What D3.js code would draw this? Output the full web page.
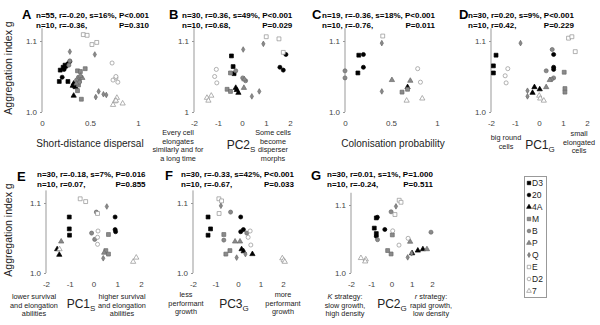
<!DOCTYPE html>
<html>
<head>
<meta charset="utf-8">
<script src="https://cdn.jsdelivr.net/npm/d3@7"></script>
<style>
  body { margin: 0; background: #fff; }
  svg { font-family: "Liberation Sans", Arial, sans-serif; }
</style>
</head>
<body>
<div id="chart"></div>
<script>
'use strict'

// strains, in legend order
const strains = ["D3", "20", "4A", "M", "B", "P", "Q", "E", "D2", "7"]

// [strain, x value, aggregation index g]
const dataA = [
  ["D3", 0.19, 1.059], ["D3", 0.22, 1.063], ["D3", 0.24, 1.066], ["D3", 0.18, 1.043], ["D3", 0.27, 1.043],
  ["20", 0.21, 1.049], ["20", 0.25, 1.064], ["20", 0.27, 1.068], ["20", 0.29, 1.071], ["20", 0.23, 1.060],
  ["4A", 0.33, 1.023], ["4A", 0.32, 1.037], ["4A", 0.34, 1.037], ["4A", 0.33, 1.040], ["4A", 0.35, 1.035],
  ["M", 0.37, 1.058], ["M", 0.40, 1.057], ["M", 0.45, 1.061], ["M", 0.38, 1.038], ["M", 0.37, 1.030], ["M", 0.41, 1.018], ["M", 0.39, 1.044],
  ["B", 0.29, 1.072], ["B", 0.38, 1.049], ["B", 0.39, 1.042], ["B", 0.36, 1.045], ["B", 0.28, 1.066],
  ["P", 0.42, 1.048], ["P", 0.40, 1.051], ["P", 0.36, 1.040],
  ["Q", 0.29, 1.085], ["Q", 0.55, 1.081], ["Q", 0.59, 1.029], ["Q", 0.64, 1.025], ["Q", 0.56, 1.021], ["Q", 0.67, 1.024],
  ["E", 0.43, 1.109], ["E", 0.47, 1.108], ["E", 0.52, 1.095], ["E", 0.57, 1.098],
  ["D2", 0.73, 1.069], ["D2", 0.74, 1.045], ["D2", 0.77, 1.048], ["D2", 0.79, 1.042], ["D2", 0.77, 1.050],
  ["7", 0.78, 1.020], ["7", 0.76, 1.015], ["7", 0.84, 1.012], ["7", 0.74, 1.010], ["7", 0.77, 1.016]
]

const dataB = [
  ["D3", -0.44, 1.079], ["D3", -0.37, 1.064], ["D3", -0.33, 1.054],
  ["20", 1.83, 1.081], ["20", 1.58, 1.063], ["20", 1.72, 1.059],
  ["4A", -0.26, 1.034], ["4A", -0.15, 1.027], ["4A", -0.22, 1.031],
  ["M", -0.48, 1.055], ["M", -0.62, 1.032], ["M", -0.48, 1.029],
  ["B", -0.26, 1.058], ["B", 0.03, 1.048], ["B", 0.15, 1.044],
  ["P", 0.10, 1.046], ["P", 0.08, 1.034],
  ["Q", 0.89, 1.096], ["Q", 0.05, 1.088], ["Q", 0.72, 1.029], ["Q", 0.41, 1.022],
  ["E", 1.01, 1.106], ["E", 1.54, 1.103], ["E", 1.72, 1.084],
  ["D2", -1.07, 1.060], ["D2", -1.14, 1.050], ["D2", -1.05, 1.041],
  ["7", -1.46, 1.020], ["7", -1.28, 1.023], ["7", -1.40, 1.016]
]

const dataC = [
  ["D3", 0.15, 1.080], ["D3", 0.14, 1.055],
  ["20", 0.20, 1.081], ["20", 0.20, 1.063],
  ["4A", 0.68, 1.035],
  ["M", 0.62, 1.028], ["M", 0.68, 1.032],
  ["B", 0.00, 1.058], ["B", 0.00, 1.048],
  ["P", 0.51, 1.045], ["P", 0.71, 1.044],
  ["Q", 0.40, 1.097], ["Q", 0.40, 1.029],
  ["E", 0.41, 1.107],
  ["D2", 0.79, 1.061], ["D2", 0.82, 1.042],
  ["7", 0.67, 1.016], ["7", 0.84, 1.019]
]

const dataD = [
  ["D3", -1.79, 1.080], ["D3", -1.90, 1.065], ["D3", -1.90, 1.055],
  ["20", 0.61, 1.081], ["20", 0.61, 1.063], ["20", 0.61, 1.060],
  ["4A", -0.19, 1.035], ["4A", 0.03, 1.032], ["4A", -0.27, 1.027],
  ["M", 1.05, 1.056], ["M", 1.08, 1.033], ["M", 1.08, 1.028],
  ["B", 0.55, 1.088], ["B", 0.30, 1.058], ["B", 0.61, 1.048], ["B", 0.52, 1.046],
  ["P", 0.30, 1.035], ["P", 0.45, 1.045],
  ["Q", -0.77, 1.097], ["Q", -0.48, 1.030], ["Q", -0.48, 1.022],
  ["E", 1.23, 1.104], ["E", 1.37, 1.106], ["E", 1.51, 1.085],
  ["D2", -1.30, 1.061], ["D2", -1.41, 1.051], ["D2", -1.37, 1.041],
  ["7", 0.01, 1.023], ["7", 0.05, 1.019], ["7", 0.20, 1.016]
]

const dataE = [
  ["D3", -1.02, 1.080], ["D3", -1.02, 1.063], ["D3", -1.01, 1.054],
  ["20", 0.91, 1.080], ["20", 0.91, 1.062], ["20", 0.93, 1.059],
  ["4A", -1.53, 1.034], ["4A", -1.44, 1.026],
  ["M", 0.63, 1.055], ["M", 0.52, 1.032], ["M", 0.63, 1.027],
  ["B", 0.12, 1.087], ["B", -0.08, 1.057], ["B", 0.05, 1.048],
  ["P", -1.36, 1.045], ["P", 0.45, 1.029],
  ["Q", 0.56, 1.095], ["Q", 0.41, 1.021],
  ["E", -0.56, 1.106], ["E", -0.33, 1.102], ["E", 0.17, 1.085],
  ["D2", 0.19, 1.060], ["D2", 0.17, 1.051], ["D2", 0.17, 1.041],
  ["7", -1.43, 1.034], ["7", 1.67, 1.016], ["7", 1.80, 1.022]
]

const dataF = [
  ["D3", -1.33, 1.080], ["D3", -1.22, 1.063], ["D3", -1.33, 1.054],
  ["20", 0.12, 1.080], ["20", 0.24, 1.062], ["20", 0.12, 1.059],
  ["4A", 0.16, 1.034], ["4A", 0.64, 1.027], ["4A", 0.25, 1.031],
  ["M", -0.63, 1.055], ["M", -0.36, 1.032], ["M", -0.54, 1.027],
  ["B", -0.33, 1.087], ["B", -0.63, 1.047], ["B", 0.39, 1.057],
  ["P", -0.13, 1.045], ["P", 0.09, 1.045],
  ["Q", -0.76, 1.096], ["Q", -0.06, 1.022], ["Q", 0.33, 1.027],
  ["E", -0.85, 1.106], ["E", -0.73, 1.103], ["E", -0.84, 1.085],
  ["D2", 0.54, 1.060], ["D2", 0.45, 1.051], ["D2", 0.57, 1.040],
  ["7", 1.97, 1.021], ["7", 2.03, 1.018], ["7", 2.08, 1.016]
]

const dataG = [
  ["D3", -0.85, 1.066], ["D3", -0.75, 1.081], ["D3", -0.75, 1.058],
  ["20", -0.70, 1.082], ["20", -0.33, 1.064], ["20", -0.75, 1.054],
  ["4A", 1.30, 1.033], ["4A", 1.55, 1.035], ["4A", 1.02, 1.029],
  ["M", 0.04, 1.056], ["M", -0.19, 1.033], ["M", -0.02, 1.028],
  ["B", -0.02, 1.090], ["B", 1.95, 1.060], ["B", -0.69, 1.049],
  ["P", 0.92, 1.046], ["P", 1.75, 1.035],
  ["Q", 0.22, 1.098], ["Q", 0.99, 1.029], ["Q", 0.80, 1.023],
  ["E", 0.38, 1.107], ["E", 0.47, 1.104], ["E", 0.17, 1.086],
  ["D2", 0.06, 1.062], ["D2", 0.82, 1.051], ["D2", 0.37, 1.041],
  ["7", -1.51, 1.022], ["7", -1.27, 1.020], ["7", -1.30, 1.017]
]

// statistics lines per panel
const statsLines = {
  A: ["n=55, r=-0.20, s=16%, P<0.001", "n=10, r=-0.36,", "P=0.310"],
  B: ["n=30, r=0.36, s=49%, P<0.001", "n=10, r=0.68,", "P=0.029"],
  C: ["n=19, r=-0.36, s=18%, P<0.001", "n=10, r=-0.76,", "P=0.011"],
  D: ["n=30, r=0.20, s=9%, P<0.001", "n=10, r=0.42,", "P=0.229"],
  E: ["n=30, r=-0.18, s=7%, P=0.016", "n=10, r=0.07,", "P=0.855"],
  F: ["n=30, r=-0.33, s=42%, P<0.001", "n=10, r=-0.67,", "P=0.033"],
  G: ["n=30, r=0.01, s=1%, P=1.000", "n=10, r=-0.24,", "P=0.511"]
}

const ticks01 = [0, 0.5, 1]
const ticksPC = [-2, -1, 0, 1, 2]
const yTicks = [1.0, 1.1]

////////////////////////////////////
//////////// svg setup /////////////
////////////////////////////////////

const svgWidth = 600
const svgHeight = 325

const svg = d3.select('#chart')
  .append('svg')
  .attr('width', svgWidth)
  .attr('height', svgHeight)

// marker styles
const black = '#000', grayFill = '#8a8a8a', grayStroke = '#6a6a6a', openStroke = '#909090'
const style = {
  "D3": { sym: d3.symbolSquare, size: 15, fill: black, stroke: black },
  "20": { sym: d3.symbolCircle, size: 13, fill: black, stroke: black },
  "4A": { sym: d3.symbolTriangle, size: 12, fill: black, stroke: black },
  "M": { sym: d3.symbolSquare, size: 15, fill: grayFill, stroke: grayStroke },
  "B": { sym: d3.symbolCircle, size: 13, fill: grayFill, stroke: grayStroke },
  "P": { sym: d3.symbolTriangle, size: 12, fill: grayFill, stroke: grayStroke },
  "Q": { sym: d3.symbolDiamond, size: 9, fill: grayFill, stroke: grayStroke },
  "E": { sym: d3.symbolSquare, size: 15, fill: '#fff', stroke: openStroke },
  "D2": { sym: d3.symbolCircle, size: 13, fill: '#fff', stroke: openStroke },
  "7": { sym: d3.symbolTriangle, size: 12, fill: '#fff', stroke: openStroke }
}

const panels = [
  { key: 'A', data: dataA, xd: [0, 1], xr: [42, 138], yr: [112, 41], ticks: ticks01, y1: '1.0',
    letter: [22, 19], stats: [36, 18], title: 'Short-distance dispersal', sub: null, tx: 90, ty: 147 },
  { key: 'B', data: dataB, xd: [-2, 2], xr: [194, 290], yr: [112, 41], ticks: ticksPC, y1: '1',
    letter: [169, 19], stats: [182, 18], title: 'PC2', sub: 'S', tx: 241, ty: 149,
    left: { x: 178, y: 135, lines: ['Every cell', 'elongates', 'similarly and for', 'a long time'] },
    right: { x: 273, y: 135, lines: ['Some cells', 'become', 'disperser', 'morphs'] } },
  { key: 'C', data: dataC, xd: [0, 1], xr: [345, 437], yr: [112, 41], ticks: ticks01, y1: '1.0',
    letter: [312, 19], stats: [322, 18], title: 'Colonisation probability', sub: null, tx: 393, ty: 147 },
  { key: 'D', data: dataD, xd: [-2, 2], xr: [491, 587], yr: [112, 41], ticks: ticksPC, y1: '1.0',
    letter: [459, 19], stats: [468, 18], title: 'PC1', sub: 'G', tx: 540, ty: 149,
    left: { x: 506, y: 140, lines: ['big round', 'cells'] },
    right: { x: 579, y: 136, lines: ['small', 'elongated', 'cells'] } },
  { key: 'E', data: dataE, xd: [-2, 2], xr: [46, 141], yr: [273, 203], ticks: ticksPC, y1: '1.0',
    letter: [17, 181], stats: [37, 177], title: 'PC1', sub: 'S', tx: 81, ty: 308,
    left: { x: 34, y: 299, lines: ['lower survival', 'and elongation', 'abilities'] },
    right: { x: 122, y: 299, lines: ['higher survival', 'and elongation', 'abilities'] } },
  { key: 'F', data: dataF, xd: [-2, 2], xr: [193, 283], yr: [273, 203], ticks: ticksPC, y1: '1.0',
    letter: [165, 180], stats: [181, 177], title: 'PC3', sub: 'G', tx: 234, ty: 308,
    left: { x: 186, y: 297, lines: ['less', 'performant', 'growth'] },
    right: { x: 283, y: 297, lines: ['more', 'performant', 'growth'] } },
  { key: 'G', data: dataG, xd: [-2, 2], xr: [351, 432], yr: [273, 205], ticks: ticksPC, y1: '1.0',
    letter: [311, 180], stats: [327, 177], title: 'PC2', sub: 'G', tx: 392, ty: 308,
    left: { x: 345, y: 299, lines: ['K strategy:', 'slow growth,', 'high density'], italic: 'K' },
    right: { x: 431, y: 299, lines: ['r strategy:', 'rapid growth,', 'low density'], italic: 'r' } }
]

////////////////////////////////////
//////////// add to DOM ////////////
////////////////////////////////////

panels.forEach(p => {
  const g = svg.append('g')

  const x = d3.scaleLinear().domain(p.xd).range(p.xr)
  const y = d3.scaleLinear().domain([1.0, 1.1]).range(p.yr)

  // y axis
  const yAxis = d3.axisLeft(y)
    .tickValues(yTicks)
    .tickSize(2)
    .tickSizeOuter(0)
    .tickFormat(d => d === 1 ? p.y1 : '1.1')
  const ya = g.append('g')
    .attr('transform', `translate(${p.xr[0]},0)`)
    .call(yAxis)
  ya.select('.domain').remove()
  ya.append('line')
    .attr('y1', y(1.0)).attr('y2', y(1.118))
    .attr('stroke', '#999')
  ya.selectAll('.tick line').attr('stroke', '#999')
  ya.selectAll('.tick text')
    .attr('x', -5)
    .attr('fill', '#444')
    .style('font-size', '8px')
    .style('font-family', '"Liberation Sans", Arial, sans-serif')

  // x axis, labels only
  const xAxis = d3.axisBottom(x)
    .tickValues(p.ticks)
    .tickSize(0)
    .tickFormat(d => String(d))
  const xa = g.append('g')
    .attr('transform', `translate(0,${p.yr[0] + 5})`)
    .call(xAxis)
  xa.select('.domain').remove()
  xa.selectAll('.tick text')
    .attr('fill', '#444')
    .style('font-size', '8px')
    .style('font-family', '"Liberation Sans", Arial, sans-serif')

  // points
  g.append('g')
    .selectAll('path')
    .data(p.data)
    .join('path')
    .attr('transform', d => `translate(${x(d[1])},${y(d[2])})`)
    .attr('d', d => d3.symbol(style[d[0]].sym, style[d[0]].size)())
    .attr('fill', d => style[d[0]].fill)
    .attr('stroke', d => style[d[0]].stroke)
    .attr('stroke-width', 0.7)

  // panel letter
  g.append('text')
    .attr('x', p.letter[0]).attr('y', p.letter[1])
    .attr('font-weight', 'bold')
    .attr('font-size', 13)
    .text(p.key)

  // stats
  const s = statsLines[p.key]
  const l1 = g.append('text')
    .attr('x', p.stats[0]).attr('y', p.stats[1])
    .attr('font-weight', 'bold').attr('font-size', 8)
    .text(s[0])
  const w = l1.node().getComputedTextLength()
  g.append('text')
    .attr('x', p.stats[0]).attr('y', p.stats[1] + 10)
    .attr('font-weight', 'bold').attr('font-size', 8)
    .text(s[1])
  g.append('text')
    .attr('x', p.stats[0] + w).attr('y', p.stats[1] + 10)
    .attr('text-anchor', 'end')
    .attr('font-weight', 'bold').attr('font-size', 8)
    .text(s[2])

  // x title
  const t = g.append('text')
    .attr('x', p.tx).attr('y', p.ty)
    .attr('text-anchor', 'middle')
    .attr('fill', '#222')
  if (p.sub) {
    t.attr('font-size', 12)
    t.append('tspan').text(p.title)
    t.append('tspan').attr('font-size', 8).attr('dy', 3).text(p.sub)
  } else {
    t.attr('font-size', 10).text(p.title)
  }

  // side notes
  ;[p.left, p.right].forEach(n => {
    if (!n) return
    n.lines.forEach((line, i) => {
      const tt = g.append('text')
        .attr('x', n.x).attr('y', n.y + i * 8.5)
        .attr('text-anchor', 'middle')
        .attr('font-size', 7.3)
        .attr('fill', '#222')
      if (i === 0 && n.italic) {
        tt.append('tspan').attr('font-style', 'italic').text(n.italic)
        tt.append('tspan').text(line.slice(n.italic.length))
      } else {
        tt.text(line)
      }
    })
  })
})

// y axis titles
;[68, 230].forEach(cy => {
  svg.append('text')
    .attr('transform', `translate(12,${cy}) rotate(-90)`)
    .attr('text-anchor', 'middle')
    .attr('font-size', 10.5)
    .attr('fill', '#222')
    .text('Aggregation index g')
})

// legend
const leg = svg.append('g')
leg.append('rect')
  .attr('x', 524.5).attr('y', 176.5)
  .attr('width', 22).attr('height', 121)
  .attr('fill', 'none').attr('stroke', '#999')
const ly = d3.scalePoint().domain(strains).range([183, 291])
const li = leg.selectAll('g.item')
  .data(strains)
  .join('g')
  .attr('class', 'item')
  .attr('transform', d => `translate(529,${ly(d)})`)
li.append('path')
  .attr('d', d => d3.symbol(style[d].sym, style[d].size * 0.8)())
  .attr('fill', d => style[d].fill)
  .attr('stroke', d => style[d].stroke)
  .attr('stroke-width', 0.7)
li.append('text')
  .attr('x', 3).attr('y', 3)
  .attr('font-size', 8.5)
  .attr('fill', '#222')
  .text(d => d)
</script>
</body>
</html>
